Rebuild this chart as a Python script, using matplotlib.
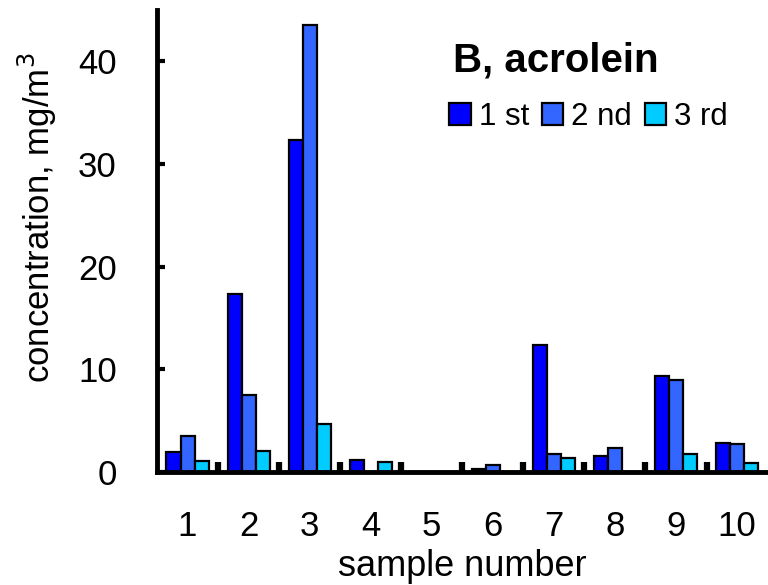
import numpy as np
import matplotlib
matplotlib.use("Agg")
import matplotlib.pyplot as plt

plt.rcParams["font.family"] = ["Liberation Sans", "DejaVu Sans"]

samples = ["1", "2", "3", "4", "5", "6", "7", "8", "9", "10"]
first = [1.95, 17.3, 32.3, 1.2, 0.0, 0.3, 12.4, 1.6, 9.35, 2.85]
second = [3.5, 7.5, 43.5, 0.0, 0.0, 0.7, 1.8, 2.3, 9.0, 2.7]
third = [1.05, 2.07, 4.67, 1.0, 0.0, 0.0, 1.4, 0.0, 1.8, 0.9]
series_names = ["1 st", "2 nd", "3 rd"]
colors = ["#0000FF", "#3366FF", "#00CCFF"]

fig = plt.figure(figsize=(7.68, 5.85), dpi=100)
ax = fig.add_axes([157 / 768, 113 / 585, 0.795, 462 / 585])

x = np.arange(len(samples))
w = 0.23
for i, (vals, name, col) in enumerate(zip([first, second, third], series_names, colors)):
    ax.bar(x + (i - 1) * w, vals, width=w, color=col, edgecolor="black",
           linewidth=1.6, label=name, zorder=2)

ax.set_xlim(-0.5, 9.5)
ax.set_ylim(0, 45)

ax.spines["top"].set_visible(False)
ax.spines["right"].set_visible(False)
ax.spines["left"].set_linewidth(3.5)
ax.spines["bottom"].set_linewidth(3.5)

ax.set_yticks([0, 10, 20, 30, 40])
ax.tick_params(axis="y", direction="in", length=6, width=3, labelsize=25, pad=29)

ax.set_xticks(x)
ax.set_xticklabels(samples)
ax.set_xticks(x[:-1] + 0.5, minor=True)
ax.tick_params(axis="x", which="major", length=0, labelsize=25, pad=27)
ax.tick_params(axis="x", which="minor", direction="in", length=7, width=4.5)

ax.set_xlabel("sample number", fontsize=26, labelpad=5)
ax.set_ylabel("concentration, mg/m$^3$", fontsize=25)
ax.yaxis.set_label_coords(-0.16, 0.55)

fig.text(453 / 768, 1 - 61 / 585, "B, acrolein", fontsize=29, fontweight="bold",
         ha="left", va="center")

fig.legend(loc="center left", bbox_to_anchor=(449 / 768, 1 - 117 / 585), ncol=3,
           frameon=False, fontsize=22.5, handlelength=0.7, handleheight=0.7,
           handletextpad=0.25, columnspacing=0.4, borderpad=0, borderaxespad=0)

fig.savefig("out.png", dpi=100)
